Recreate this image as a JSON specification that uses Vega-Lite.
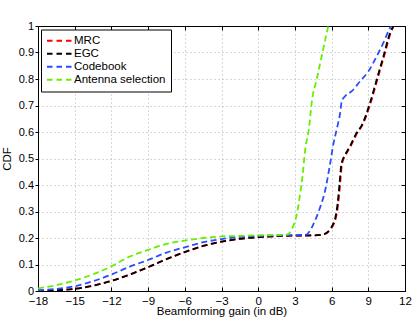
{
  "$schema": "https://vega.github.io/schema/vega-lite/v6.json",
  "autosize": "none",
  "width": 367,
  "height": 265,
  "padding": {"left": 38, "top": 26, "right": 10, "bottom": 28},
  "background": "white",
  "config": {
    "font": "Liberation Sans",
    "view": {"stroke": "black", "strokeWidth": 1},
    "axis": {
      "domainColor": "black",
      "tickColor": "black",
      "labelFont": "Liberation Sans",
      "labelFontSize": 11.5,
      "labelColor": "black",
      "labelOverlap": false,
      "labelFlush": false,
      "labelBound": false,
      "titleFont": "Liberation Sans",
      "titleFontSize": 11.5,
      "titleFontWeight": "normal",
      "titleColor": "black",
      "gridColor": "#b0b0b0",
      "gridDash": [1, 3],
      "gridWidth": 1
    },
    "legend": {
      "orient": "none",
      "legendX": 3,
      "legendY": 3.5,
      "fillColor": "white",
      "strokeColor": "black",
      "padding": 5,
      "symbolType": "stroke",
      "symbolSize": 676,
      "symbolStrokeWidth": 1.8,
      "symbolDash": [5.5, 4],
      "labelFont": "Liberation Sans",
      "labelFontSize": 11.5,
      "labelColor": "black",
      "labelOffset": 0,
      "clipHeight": 12.5,
      "rowPadding": 0,
      "title": null
    }
  },
  "data": {
    "values": [
      {"x": -18, "cdf": 0.0, "series": "MRC"},
      {"x": -16.5, "cdf": 0.003, "series": "MRC"},
      {"x": -15, "cdf": 0.008, "series": "MRC"},
      {"x": -13.5, "cdf": 0.02, "series": "MRC"},
      {"x": -12, "cdf": 0.038, "series": "MRC"},
      {"x": -10.5, "cdf": 0.062, "series": "MRC"},
      {"x": -9, "cdf": 0.09, "series": "MRC"},
      {"x": -7.5, "cdf": 0.12, "series": "MRC"},
      {"x": -6, "cdf": 0.147, "series": "MRC"},
      {"x": -4.5, "cdf": 0.17, "series": "MRC"},
      {"x": -3, "cdf": 0.186, "series": "MRC"},
      {"x": -1.5, "cdf": 0.197, "series": "MRC"},
      {"x": 0, "cdf": 0.203, "series": "MRC"},
      {"x": 1.5, "cdf": 0.207, "series": "MRC"},
      {"x": 3, "cdf": 0.209, "series": "MRC"},
      {"x": 4.5, "cdf": 0.21, "series": "MRC"},
      {"x": 5.15, "cdf": 0.212, "series": "MRC"},
      {"x": 5.65, "cdf": 0.22, "series": "MRC"},
      {"x": 5.95, "cdf": 0.235, "series": "MRC"},
      {"x": 6.2, "cdf": 0.255, "series": "MRC"},
      {"x": 6.35, "cdf": 0.276, "series": "MRC"},
      {"x": 6.53, "cdf": 0.326, "series": "MRC"},
      {"x": 6.69, "cdf": 0.4, "series": "MRC"},
      {"x": 6.81, "cdf": 0.465, "series": "MRC"},
      {"x": 6.95, "cdf": 0.495, "series": "MRC"},
      {"x": 7.05, "cdf": 0.505, "series": "MRC"},
      {"x": 7.55, "cdf": 0.546, "series": "MRC"},
      {"x": 8.1, "cdf": 0.597, "series": "MRC"},
      {"x": 8.51, "cdf": 0.625, "series": "MRC"},
      {"x": 9.19, "cdf": 0.71, "series": "MRC"},
      {"x": 9.74, "cdf": 0.798, "series": "MRC"},
      {"x": 10.29, "cdf": 0.886, "series": "MRC"},
      {"x": 10.83, "cdf": 0.974, "series": "MRC"},
      {"x": 11.08, "cdf": 1.0, "series": "MRC"},

      {"x": -18, "cdf": 0.0, "series": "EGC"},
      {"x": -16.5, "cdf": 0.003, "series": "EGC"},
      {"x": -15, "cdf": 0.008, "series": "EGC"},
      {"x": -13.5, "cdf": 0.02, "series": "EGC"},
      {"x": -12, "cdf": 0.038, "series": "EGC"},
      {"x": -10.5, "cdf": 0.062, "series": "EGC"},
      {"x": -9, "cdf": 0.09, "series": "EGC"},
      {"x": -7.5, "cdf": 0.12, "series": "EGC"},
      {"x": -6, "cdf": 0.147, "series": "EGC"},
      {"x": -4.5, "cdf": 0.17, "series": "EGC"},
      {"x": -3, "cdf": 0.186, "series": "EGC"},
      {"x": -1.5, "cdf": 0.197, "series": "EGC"},
      {"x": 0, "cdf": 0.203, "series": "EGC"},
      {"x": 1.5, "cdf": 0.207, "series": "EGC"},
      {"x": 3, "cdf": 0.209, "series": "EGC"},
      {"x": 4.5, "cdf": 0.21, "series": "EGC"},
      {"x": 5.1, "cdf": 0.212, "series": "EGC"},
      {"x": 5.6, "cdf": 0.22, "series": "EGC"},
      {"x": 5.9, "cdf": 0.235, "series": "EGC"},
      {"x": 6.15, "cdf": 0.255, "series": "EGC"},
      {"x": 6.3, "cdf": 0.276, "series": "EGC"},
      {"x": 6.48, "cdf": 0.326, "series": "EGC"},
      {"x": 6.64, "cdf": 0.4, "series": "EGC"},
      {"x": 6.76, "cdf": 0.465, "series": "EGC"},
      {"x": 6.9, "cdf": 0.495, "series": "EGC"},
      {"x": 7.0, "cdf": 0.505, "series": "EGC"},
      {"x": 7.5, "cdf": 0.546, "series": "EGC"},
      {"x": 8.05, "cdf": 0.597, "series": "EGC"},
      {"x": 8.46, "cdf": 0.625, "series": "EGC"},
      {"x": 9.14, "cdf": 0.71, "series": "EGC"},
      {"x": 9.69, "cdf": 0.798, "series": "EGC"},
      {"x": 10.24, "cdf": 0.886, "series": "EGC"},
      {"x": 10.78, "cdf": 0.974, "series": "EGC"},
      {"x": 11.05, "cdf": 1.0, "series": "EGC"},

      {"x": -18, "cdf": 0.003, "series": "Codebook"},
      {"x": -16.5, "cdf": 0.008, "series": "Codebook"},
      {"x": -15, "cdf": 0.018, "series": "Codebook"},
      {"x": -13.5, "cdf": 0.037, "series": "Codebook"},
      {"x": -12, "cdf": 0.062, "series": "Codebook"},
      {"x": -10.5, "cdf": 0.092, "series": "Codebook"},
      {"x": -9, "cdf": 0.117, "series": "Codebook"},
      {"x": -7.5, "cdf": 0.145, "series": "Codebook"},
      {"x": -6, "cdf": 0.165, "series": "Codebook"},
      {"x": -4.5, "cdf": 0.184, "series": "Codebook"},
      {"x": -3, "cdf": 0.196, "series": "Codebook"},
      {"x": -1.5, "cdf": 0.204, "series": "Codebook"},
      {"x": 0, "cdf": 0.208, "series": "Codebook"},
      {"x": 1.5, "cdf": 0.21, "series": "Codebook"},
      {"x": 3, "cdf": 0.211, "series": "Codebook"},
      {"x": 3.95, "cdf": 0.213, "series": "Codebook"},
      {"x": 4.2, "cdf": 0.225, "series": "Codebook"},
      {"x": 4.5, "cdf": 0.251, "series": "Codebook"},
      {"x": 5.05, "cdf": 0.314, "series": "Codebook"},
      {"x": 5.46, "cdf": 0.377, "series": "Codebook"},
      {"x": 5.87, "cdf": 0.478, "series": "Codebook"},
      {"x": 6.14, "cdf": 0.553, "series": "Codebook"},
      {"x": 6.47, "cdf": 0.62, "series": "Codebook"},
      {"x": 6.7, "cdf": 0.672, "series": "Codebook"},
      {"x": 6.83, "cdf": 0.716, "series": "Codebook"},
      {"x": 7.1, "cdf": 0.735, "series": "Codebook"},
      {"x": 7.65, "cdf": 0.754, "series": "Codebook"},
      {"x": 8.33, "cdf": 0.792, "series": "Codebook"},
      {"x": 9.01, "cdf": 0.829, "series": "Codebook"},
      {"x": 9.69, "cdf": 0.886, "series": "Codebook"},
      {"x": 10.24, "cdf": 0.937, "series": "Codebook"},
      {"x": 10.65, "cdf": 0.981, "series": "Codebook"},
      {"x": 10.86, "cdf": 1.0, "series": "Codebook"},

      {"x": -18, "cdf": 0.01, "series": "Antenna selection"},
      {"x": -16.5, "cdf": 0.022, "series": "Antenna selection"},
      {"x": -15, "cdf": 0.04, "series": "Antenna selection"},
      {"x": -13.5, "cdf": 0.063, "series": "Antenna selection"},
      {"x": -12, "cdf": 0.093, "series": "Antenna selection"},
      {"x": -10.5, "cdf": 0.13, "series": "Antenna selection"},
      {"x": -9, "cdf": 0.155, "series": "Antenna selection"},
      {"x": -7.5, "cdf": 0.178, "series": "Antenna selection"},
      {"x": -6, "cdf": 0.19, "series": "Antenna selection"},
      {"x": -4.5, "cdf": 0.2, "series": "Antenna selection"},
      {"x": -3, "cdf": 0.206, "series": "Antenna selection"},
      {"x": -1.5, "cdf": 0.208, "series": "Antenna selection"},
      {"x": 0, "cdf": 0.21, "series": "Antenna selection"},
      {"x": 1.5, "cdf": 0.211, "series": "Antenna selection"},
      {"x": 2.34, "cdf": 0.213, "series": "Antenna selection"},
      {"x": 2.74, "cdf": 0.232, "series": "Antenna selection"},
      {"x": 3.15, "cdf": 0.289, "series": "Antenna selection"},
      {"x": 3.42, "cdf": 0.364, "series": "Antenna selection"},
      {"x": 3.64, "cdf": 0.44, "series": "Antenna selection"},
      {"x": 3.83, "cdf": 0.528, "series": "Antenna selection"},
      {"x": 4.18, "cdf": 0.625, "series": "Antenna selection"},
      {"x": 4.37, "cdf": 0.71, "series": "Antenna selection"},
      {"x": 4.78, "cdf": 0.798, "series": "Antenna selection"},
      {"x": 5.19, "cdf": 0.886, "series": "Antenna selection"},
      {"x": 5.6, "cdf": 0.974, "series": "Antenna selection"},
      {"x": 5.73, "cdf": 1.0, "series": "Antenna selection"}
    ]
  },
  "layer": [
    {
      "mark": {"type": "line", "strokeWidth": 1.8, "strokeDash": [6, 3.5], "interpolate": "monotone", "clip": true},
      "encoding": {
        "x": {
          "field": "x", "type": "quantitative",
          "scale": {"domain": [-18, 12], "nice": false},
          "axis": {"values": [-18, -15, -12, -9, -6, -3, 0, 3, 6, 9, 12], "title": "Beamforming gain (in dB)", "tickSize": -4, "labelPadding": 8, "titlePadding": -1, "grid": true}
        },
        "y": {
          "field": "cdf", "type": "quantitative",
          "scale": {"domain": [0, 1], "nice": false},
          "axis": {"values": [0, 0.1, 0.2, 0.3, 0.4, 0.5, 0.6, 0.7, 0.8, 0.9, 1], "format": ".1~f", "title": "CDF", "tickSize": 3, "labelPadding": 1.5, "labelFontSize": 11, "titlePadding": 6, "grid": true}
        },
        "color": {
          "field": "series", "type": "nominal",
          "scale": {"domain": ["MRC", "EGC", "Codebook", "Antenna selection"], "range": ["#ff0000", "#000000", "#2a4cff", "#66ee00"]},
          "legend": {"title": null}
        }
      }
    },
    {
      "mark": {"type": "point", "opacity": 0},
      "encoding": {
        "x": {
          "field": "x", "type": "quantitative",
          "scale": {"domain": [-18, 12], "nice": false},
          "axis": {"orient": "top", "values": [-18, -15, -12, -9, -6, -3, 0, 3, 6, 9, 12], "tickSize": -4, "labels": false, "title": null, "grid": false}
        },
        "y": {
          "field": "cdf", "type": "quantitative",
          "scale": {"domain": [0, 1], "nice": false},
          "axis": {"orient": "right", "values": [0, 0.1, 0.2, 0.3, 0.4, 0.5, 0.6, 0.7, 0.8, 0.9, 1], "tickSize": -4, "labels": false, "title": null, "grid": false}
        }
      }
    }
  ],
  "resolve": {"axis": {"x": "independent", "y": "independent"}}
}
